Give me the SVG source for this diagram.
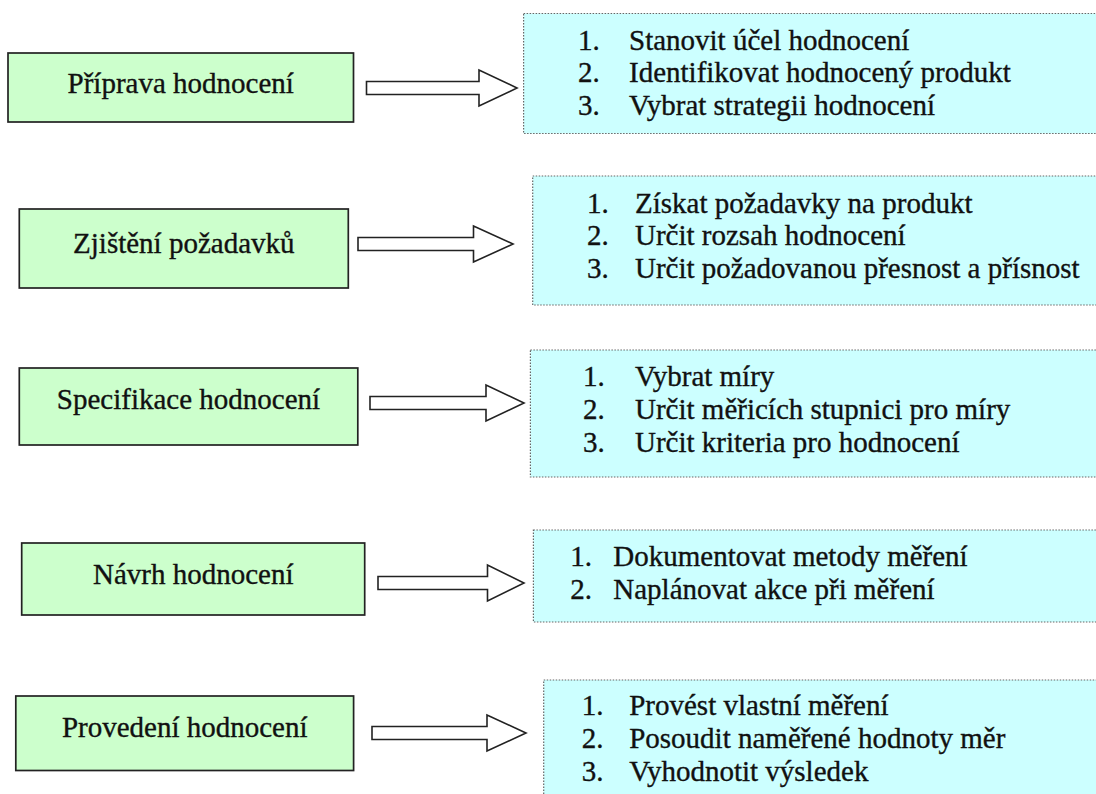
<svg xmlns="http://www.w3.org/2000/svg" width="1096" height="794" viewBox="0 0 1096 794">
  <style>
    .step rect { fill: #ccffcc; stroke: #222; stroke-width: 1.7; }
    .list rect { fill: #ccffff; stroke: #666; stroke-width: 1.2; stroke-dasharray: 1.5 1.5; }
    .arrow { fill: #ffffff; stroke: #222; stroke-width: 1.6; stroke-linejoin: miter; }
    text { stroke: #111; stroke-width: 0.35; }
  </style>
  <rect width="1096" height="794" fill="#ffffff"/>

  <g id="connectors">
    <polygon class="arrow" points="366.5,81.5 479,81.5 479,70 517,88 479,106 479,94.5 366.5,94.5"/>
    <polygon class="arrow" points="358,237.5 473.5,237.5 473.5,226 513,244 473.5,262 473.5,250.5 358,250.5"/>
    <polygon class="arrow" points="370,396.5 486,396.5 486,385 524,403 486,421 486,409.5 370,409.5"/>
    <polygon class="arrow" points="378,576.5 487.5,576.5 487.5,565 524,583 487.5,601 487.5,589.5 378,589.5"/>
    <polygon class="arrow" points="372,726.5 487,726.5 487,715 526,733 487,751 487,739.5 372,739.5"/>
  </g>

  <g font-family="Liberation Serif, Tinos, DejaVu Serif, serif" font-size="29" fill="#111">
  <g id="step-1" class="step" text-anchor="middle">
    <rect x="8" y="53" width="345.5" height="69"/>
    <text x="180.7" y="93">Příprava hodnocení</text>
  </g>
  <g id="step-2" class="step" text-anchor="middle">
    <rect x="19.3" y="209" width="329" height="79"/>
    <text x="183.8" y="253">Zjištění požadavků</text>
  </g>
  <g id="step-3" class="step" text-anchor="middle">
    <rect x="19.3" y="368" width="338.5" height="77"/>
    <text x="188.5" y="409">Specifikace hodnocení</text>
  </g>
  <g id="step-4" class="step" text-anchor="middle">
    <rect x="21.7" y="543" width="343" height="72"/>
    <text x="193.3" y="584">Návrh hodnocení</text>
  </g>
  <g id="step-5" class="step" text-anchor="middle">
    <rect x="15.8" y="696" width="337.8" height="74.5"/>
    <text x="184.7" y="737">Provedení hodnocení</text>
  </g>

  <g id="list-1" class="list">
    <rect x="523.6" y="13.5" width="580" height="120"/>
    <text x="578" y="50">1.</text><text x="629" y="50">Stanovit účel hodnocení</text>
    <text x="578" y="82">2.</text><text x="629" y="82">Identifikovat hodnocený produkt</text>
    <text x="578" y="115">3.</text><text x="629" y="115">Vybrat strategii hodnocení</text>
  </g>
  <g id="list-2" class="list">
    <rect x="532.7" y="176" width="570" height="129"/>
    <text x="587" y="213">1.</text><text x="635" y="213">Získat požadavky na produkt</text>
    <text x="587" y="245">2.</text><text x="635" y="245">Určit rozsah hodnocení</text>
    <text x="587" y="278">3.</text><text x="635" y="278">Určit požadovanou přesnost a přísnost</text>
  </g>
  <g id="list-3" class="list">
    <rect x="530.4" y="350" width="570" height="127"/>
    <text x="583" y="386">1.</text><text x="635" y="386">Vybrat míry</text>
    <text x="583" y="419">2.</text><text x="635" y="419">Určit měřicích stupnici pro míry</text>
    <text x="583" y="452">3.</text><text x="635" y="452">Určit kriteria pro hodnocení</text>
  </g>
  <g id="list-4" class="list">
    <rect x="533.4" y="530" width="570" height="92"/>
    <text x="570.3" y="566">1.</text><text x="613.3" y="566">Dokumentovat metody měření</text>
    <text x="570.3" y="599">2.</text><text x="613.3" y="599">Naplánovat akce při měření</text>
  </g>
  <g id="list-5" class="list">
    <rect x="543.7" y="680" width="560" height="130"/>
    <text x="581.7" y="715">1.</text><text x="629.2" y="715">Provést vlastní měření</text>
    <text x="581.7" y="748">2.</text><text x="629.2" y="748">Posoudit naměřené hodnoty měr</text>
    <text x="581.7" y="781">3.</text><text x="629.2" y="781">Vyhodnotit výsledek</text>
  </g>
  </g>
</svg>
